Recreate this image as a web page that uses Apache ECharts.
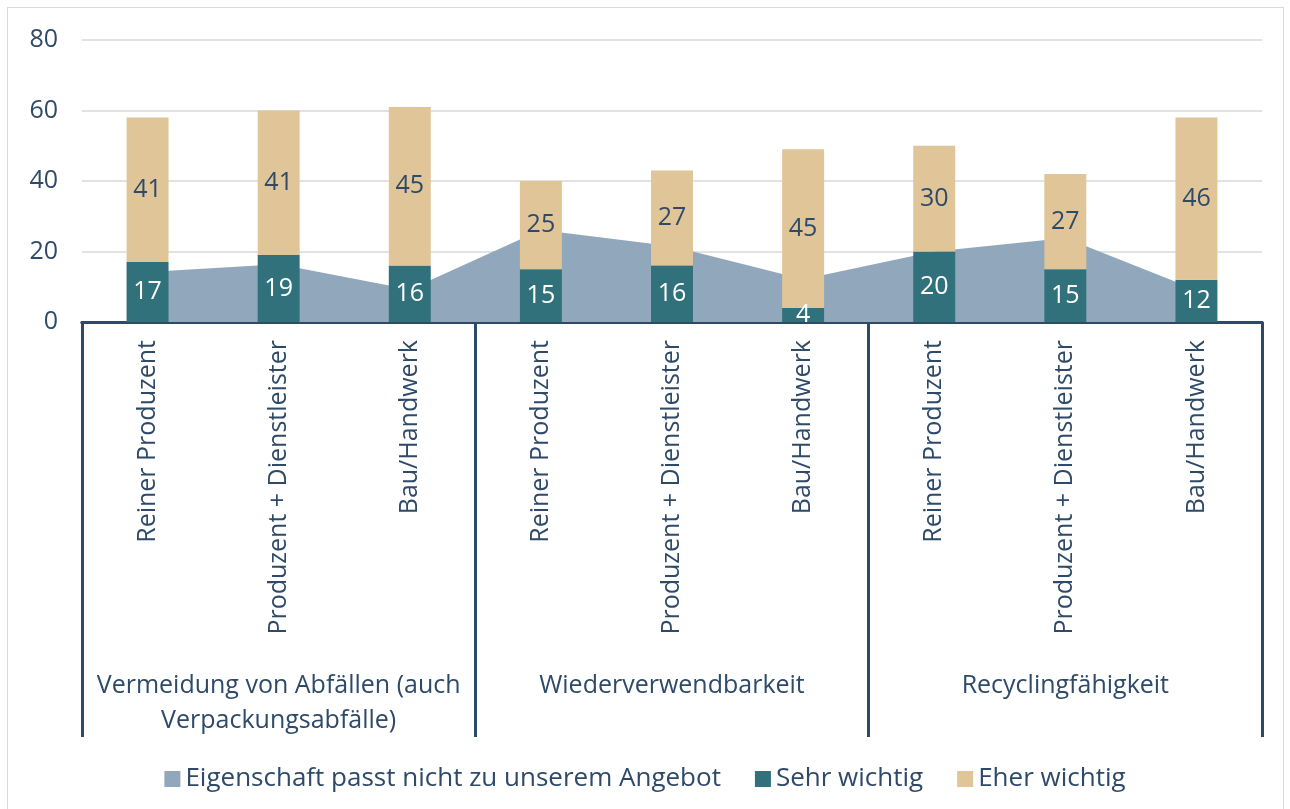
<!DOCTYPE html>
<html>
<head>
<meta charset="utf-8">
<script src="https://cdn.jsdelivr.net/npm/echarts@6/dist/echarts.min.js"></script>
<style>
  html, body { margin: 0; padding: 0; background: #fff; }
  #frame { position: absolute; left: 7px; top: 7px; width: 1275px; height: 810px;
           border: 1px solid #d9d9d9; border-bottom: none; }
  #chart { position: absolute; left: 0; top: 0; width: 1290px; height: 809px; }
</style>
</head>
<body>
<div id="frame"></div>
<div id="chart"></div>
<script>
var categories = ['Reiner Produzent', 'Produzent + Dienstleister', 'Bau/Handwerk',
                  'Reiner Produzent', 'Produzent + Dienstleister', 'Bau/Handwerk',
                  'Reiner Produzent', 'Produzent + Dienstleister', 'Bau/Handwerk'];
var groups = ['Vermeidung von Abfällen (auch\nVerpackungsabfälle)', 'Wiederverwendbarkeit', 'Recyclingfähigkeit'];
var passtNicht = [14.2, 16.4, 9.2, 26.1, 21.5, 12.1, 20, 23.8, 9.1];
var sehrWichtig = [17, 19, 16, 15, 16, 4, 20, 15, 12];
var eherWichtig = [41, 41, 45, 25, 27, 45, 30, 27, 46];
var yTicks = [0, 20, 40, 60, 80];

var navy = '#2e4a68';
var font = '"Open Sans", sans-serif';

var chart = echarts.init(document.getElementById('chart'));
chart.setOption({
  animation: false,
  textStyle: { fontFamily: font },
  grid: { left: 82, right: 28, top: 40, bottom: 487 },
  legend: {
    bottom: 12, left: 'center', itemGap: 34, itemWidth: 16, itemHeight: 16,
    icon: 'rect',
    textStyle: { color: navy, fontSize: 26, fontFamily: font },
    data: ['Eigenschaft passt nicht zu unserem Angebot', 'Sehr wichtig', 'Eher wichtig']
  },
  xAxis: [{
    type: 'category', data: categories,
    axisLine: { lineStyle: { color: navy, width: 3 } },
    axisTick: { show: false },
    axisLabel: { rotate: 90, color: navy, fontSize: 25, margin: 18, interval: 0 }
  }, {
    type: 'category', data: groups, position: 'bottom', offset: 0,
    axisLine: { show: true, lineStyle: { color: navy, width: 3 } },
    axisTick: { show: true, length: 415, interval: 0, lineStyle: { color: navy, width: 3 } },
    axisLabel: { color: navy, fontSize: 25, margin: 346, lineHeight: 35, interval: 0 }
  }],
  yAxis: {
    type: 'value', min: yTicks[0], max: yTicks[yTicks.length - 1], interval: 20,
    axisLine: { show: false }, axisTick: { show: false },
    axisLabel: { color: navy, fontSize: 25, margin: 24 },
    splitLine: { lineStyle: { color: '#d9d9d9', width: 1.5 } }
  },
  series: [{
    name: 'Eigenschaft passt nicht zu unserem Angebot',
    type: 'line', data: passtNicht, symbol: 'none', z: 1,
    lineStyle: { width: 0 }, itemStyle: { color: '#91a7bb' },
    areaStyle: { color: '#91a7bb', opacity: 1 }
  }, {
    name: 'Sehr wichtig', type: 'bar', stack: 'a', data: sehrWichtig, barWidth: '32%', z: 3,
    itemStyle: { color: '#31717b' },
    label: { show: true, position: 'inside', color: '#fff', fontSize: 25 }
  }, {
    name: 'Eher wichtig', type: 'bar', stack: 'a', data: eherWichtig, z: 3,
    itemStyle: { color: '#e0c598' },
    label: { show: true, position: 'inside', color: navy, fontSize: 25 }
  }]
});
</script>
</body>
</html>
